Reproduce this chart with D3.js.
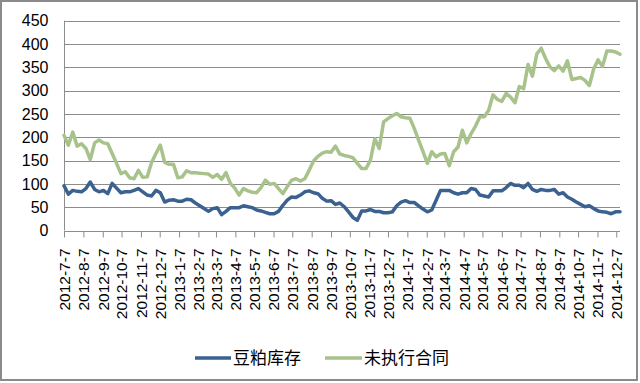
<!DOCTYPE html>
<html><head><meta charset="utf-8">
<script src="https://cdn.jsdelivr.net/npm/d3@7"></script>
<style>
html,body{margin:0;padding:0;background:#fff;}
svg{display:block;}
</style></head>
<body>
<script>
// ---- data ----
const startDate = "2012-7-7"; // first weekly observation, one point per week
const seriesNames = ["豆粕库存", "未执行合同"];
const soymealStock = [96,78,86,84,83,90,104,88,83,86,79,101,91,81,83,83,86,90,83,76,74,86,81,61,65,66,63,63,67,66,59,53,47,41,47,49,34,41,49,49,49,53,51,49,44,42,39,36,36,41,54,65,72,71,76,83,85,81,79,69,63,64,56,59,51,40,28,22,42,42,45,41,41,38,38,40,53,61,64,60,60,53,46,40,44,65,86,86,86,81,78,81,81,90,88,76,74,72,85,85,85,92,101,97,97,92,101,88,84,88,86,86,88,78,81,72,67,61,56,51,53,47,42,40,39,36,40,40];
const unexecutedContracts = [204,183,211,181,186,176,152,188,194,188,186,165,144,122,126,113,111,129,114,115,146,165,183,146,142,142,113,115,128,124,124,123,122,121,114,120,110,124,101,91,76,90,85,82,81,92,108,99,101,90,79,94,108,111,106,111,129,149,159,166,169,168,181,164,161,159,156,144,133,133,151,197,176,233,240,246,251,244,242,241,219,194,169,144,169,158,164,165,139,169,179,215,188,208,224,244,244,258,291,281,277,294,286,274,309,304,356,331,379,391,369,351,343,353,342,364,324,326,328,322,311,347,366,352,385,385,383,378];
const yTicks = [0,50,100,150,200,250,300,350,400,450];
const tickLabels = ["2012-7-7","2012-8-7","2012-9-7","2012-10-7","2012-11-7","2012-12-7","2013-1-7","2013-2-7","2013-3-7","2013-4-7","2013-5-7","2013-6-7","2013-7-7","2013-8-7","2013-9-7","2013-10-7","2013-11-7","2013-12-7","2014-1-7","2014-2-7","2014-3-7","2014-4-7","2014-5-7","2014-6-7","2014-7-7","2014-8-7","2014-9-7","2014-10-7","2014-11-7","2014-12-7"];

// ---- helpers ----
function parseD(s){const p=s.split("-").map(Number);return new Date(Date.UTC(p[0],p[1]-1,p[2]));}
const t0 = parseD(startDate);
const dates = soymealStock.map((_,i)=>d3.utcDay.offset(t0, 7*i));

const W=640,H=383;
const svg=d3.select("body").append("svg").attr("width",W).attr("height",H);
svg.append("rect").attr("x",1).attr("y",1).attr("width",636).attr("height",379)
  .attr("fill","#fff").attr("stroke","#8a8a8a").attr("stroke-width",2);

const x=d3.scaleUtc().domain([t0, dates[dates.length-1]]).range([64,620]);
const y=d3.scaleLinear().domain([0,450]).range([230.5,20.7]);

const font='"Liberation Sans", Arial, sans-serif';
const grid="#8c8c8c";

// gridlines
svg.append("g").selectAll("line").data(yTicks.filter(d=>d>0)).join("line")
  .attr("x1",64).attr("x2",620).attr("y1",d=>Math.round(y(d))+0.5).attr("y2",d=>Math.round(y(d))+0.5)
  .attr("stroke",grid).attr("stroke-width",1);

// y axis
const yAxis=d3.axisLeft(y).tickValues(yTicks).tickSize(0).tickPadding(16);
const gy=svg.append("g").attr("transform","translate(64.5,0)").call(yAxis);
gy.select(".domain").attr("stroke",grid).attr("d","M0,"+y(450)+"V"+y(0));
gy.selectAll("text").attr("font-family",font).attr("font-size","16px").attr("fill","#000");

// x axis
const tickDates=tickLabels.map(parseD);
const xAxis=d3.axisBottom(x).tickValues(tickDates).tickSize(6).tickFormat((d,i)=>tickLabels[i]);
const gx=svg.append("g").attr("transform","translate(0,"+(Math.round(y(0))+0.5)+")").call(xAxis);
gx.select(".domain").attr("stroke",grid).attr("d","M64,0H620");
gx.selectAll(".tick line").attr("stroke",grid);
gx.selectAll("text").attr("font-family",font).attr("font-size","15.5px").attr("fill","#000")
  .attr("text-anchor","end").attr("dy","0.35em")
  .attr("transform","translate(0,17) rotate(-90) translate(0,0)").attr("x",0).attr("y",0);

// lines
const colors=["#3a6190","#a7c28b"];
const line=d3.line().x((d,i)=>x(dates[i])).y(d=>y(d)).curve(d3.curveLinear);
[unexecutedContracts,soymealStock].forEach((s,k)=>{
  svg.append("path").datum(s).attr("d",line).attr("fill","none")
    .attr("stroke",k===0?colors[1]:colors[0]).attr("stroke-width",3.5)
    .attr("stroke-linejoin","round").attr("stroke-linecap","round");
});

// legend
const leg=[{name:seriesNames[0],c:colors[0],x1:195,x2:231,tx:233},{name:seriesNames[1],c:colors[1],x1:325,x2:362,tx:364}];
const lg=svg.append("g");
leg.forEach(l=>{
  lg.append("line").attr("x1",l.x1).attr("x2",l.x2).attr("y1",358).attr("y2",358).attr("stroke",l.c).attr("stroke-width",3.5);
  lg.append("text").attr("x",l.tx).attr("y",358).attr("dy","0.35em").attr("font-family",'"Noto Sans CJK SC", sans-serif')
    .attr("font-size","17px").attr("fill","#000").text(l.name);
});
</script>
</body></html>
